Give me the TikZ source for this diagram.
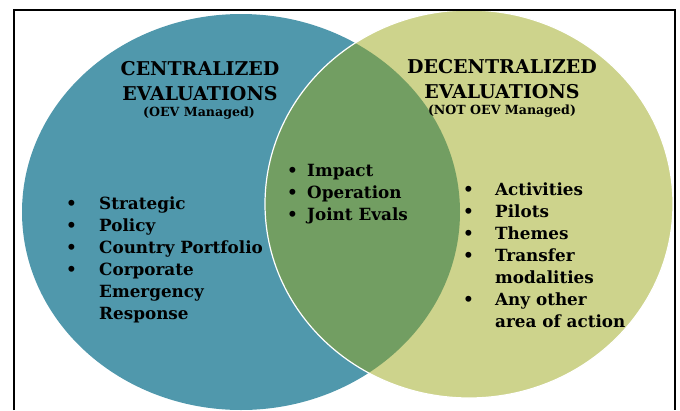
\documentclass[tikz,border=0pt]{standalone}
\usepackage{fontspec}
\setmainfont{DejaVu Serif}
\usetikzlibrary{positioning}
\definecolor{evalblue}{RGB}{80,152,172}
\definecolor{evalyellow}{RGB}{205,211,140}
\definecolor{evalgreen}{RGB}{114,158,98}
\tikzset{
    head/.style={font=\bfseries\fontsize{19}{24}\selectfont, inner sep=0pt, anchor=base},
    sub/.style={font=\bfseries\fontsize{12.6}{14}\selectfont, inner sep=0pt, anchor=base},
    items/.style={font=\bfseries\fontsize{16.8}{22}\selectfont, inner sep=0pt, anchor=base west}
}
\begin{document}
\begin{tikzpicture}[x=1pt, y=-1pt]
    \useasboundingbox (0,0) rectangle (680,410);
    
    \fill[evalblue] (241,212) ellipse [x radius=219pt, y radius=198pt];%centralized
    \fill[evalyellow] (469,204) ellipse [x radius=204pt, y radius=194pt];%decentralized
    \begin{scope}
        \clip (241,212) ellipse [x radius=219pt, y radius=198pt];
        \fill[evalgreen] (469,204) ellipse [x radius=204pt, y radius=194pt];
    \end{scope}
    \draw[white, line width=1.2pt] (469,204) ellipse [x radius=204pt, y radius=194pt];
    
    % frame
    \draw[line width=1.5pt] (14,410) |- (675,10) -- (675,410);
    
    \node[head] (centa) at (200,75) {CENTRALIZED};
    \node[head] (centb) at (200,100) {EVALUATIONS};
    \node[sub] (centc) at (199,116) {(OEV Managed)};
    \node[head] (decenta) at (502,73) {DECENTRALIZED};
    \node[head] (decentb) at (502,98) {EVALUATIONS};
    \node[sub] (decentc) at (502,114) {(NOT OEV Managed)};
    
    \node[items] (centlist) at (66,209) {\begin{tabular}[t]{@{}p{33pt}@{}l@{}}
        \textbullet & Strategic\\
        \textbullet & Policy\\
        \textbullet & Country Portfolio\\
        \textbullet & Corporate\\
        & Emergency\\
        & Response
    \end{tabular}};
    \node[items] (bothlist) at (287,176) {\begin{tabular}[t]{@{}p{20pt}@{}l@{}}
        \textbullet & Impact\\
        \textbullet & Operation\\
        \textbullet & Joint Evals
    \end{tabular}};
    \node[items] (decentlist) at (463,195) {\begin{tabular}[t]{@{}p{32pt}@{}l@{}}
        \textbullet & Activities\\
        \textbullet & Pilots\\
        \textbullet & Themes\\
        \textbullet & Transfer\\
        & modalities\\
        \textbullet & Any other\\
        & area of action
    \end{tabular}};
\end{tikzpicture}
\end{document}
